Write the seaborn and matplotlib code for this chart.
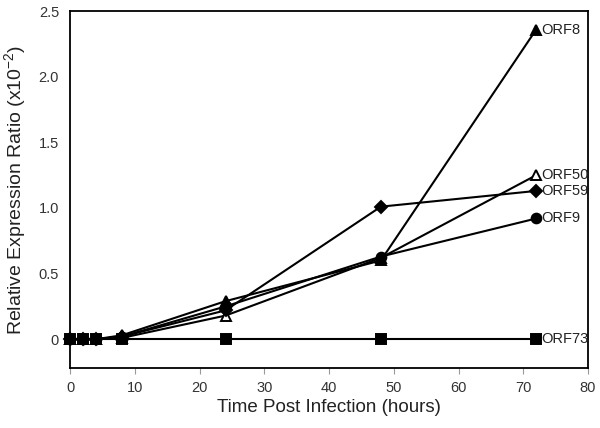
import numpy as np
import pandas as pd
import matplotlib
matplotlib.use("Agg")
import matplotlib.pyplot as plt
import matplotlib.ticker as mticker
import seaborn as sns

hours = [0, 2, 4, 8, 24, 48, 72]
orf8  = [0, 0, 0, 0.03, 0.29, 0.60, 2.36]
orf50 = [0, 0, 0, 0.01, 0.18, 0.62, 1.25]
orf59 = [0, 0, 0, 0.02, 0.22, 1.01, 1.13]
orf9  = [0, 0, 0, 0.02, 0.25, 0.63, 0.92]
orf73 = [0, 0, 0, 0.00, 0.00, 0.00, 0.00]

series = [
    ("ORF8",  orf8,  "^", "black"),
    ("ORF50", orf50, "^", "white"),
    ("ORF59", orf59, "D", "black"),
    ("ORF9",  orf9,  "o", "black"),
    ("ORF73", orf73, "s", "black"),
]

sns.set_style("white")
plt.rcParams["font.family"] = ["Liberation Sans", "DejaVu Sans"]
plt.rcParams["mathtext.fontset"] = "custom"
plt.rcParams["mathtext.rm"] = "Liberation Sans"
plt.rcParams["mathtext.it"] = "Liberation Sans"

fig = plt.figure(figsize=(6, 4.28), dpi=100)
ax = fig.add_axes([0.117, 0.14, 0.863, 0.834])

for name, vals, mk, fc in series:
    df = pd.DataFrame({"h": hours, "v": vals})
    ms = {"D": 6, "o": 7, "s": 7, "^": 7.5}[mk]
    sns.lineplot(data=df, x="h", y="v", ax=ax, color="black", linewidth=1.5,
                 marker=mk, markersize=ms, markerfacecolor=fc,
                 markeredgecolor="black", markeredgewidth=1.4, zorder=3,
                 clip_on=False)
    ax.text(hours[-1] + 0.7, vals[-1], name, va="center", ha="left",
            fontsize=10.5, color="#222222")

ax.set_xlim(0, 80)
ax.set_ylim(-0.22, 2.5)
ax.set_xticks(range(0, 81, 10))
ax.set_yticks([0, 0.5, 1.0, 1.5, 2.0, 2.5])
ax.yaxis.set_major_formatter(mticker.FuncFormatter(
    lambda v, _: "0" if v == 0 else f"{v:.1f}"))

for sp in ax.spines.values():
    sp.set_color("black")
    sp.set_linewidth(1.3)

ax.tick_params(axis="x", direction="out", length=4, color="#999999",
               labelsize=10.5, labelcolor="#333333", pad=5, bottom=True)
ax.tick_params(axis="y", length=0, labelsize=10.5, labelcolor="#333333", pad=8)

ax.set_xlabel("Time Post Infection (hours)", fontsize=13.5, color="#222222",
              labelpad=3)
ax.set_ylabel("Relative Expression Ratio (x10$^{\\mathrm{-2}}$)", fontsize=14,
              color="#222222", labelpad=8)

fig.savefig("out.png", dpi=100, facecolor="white")
